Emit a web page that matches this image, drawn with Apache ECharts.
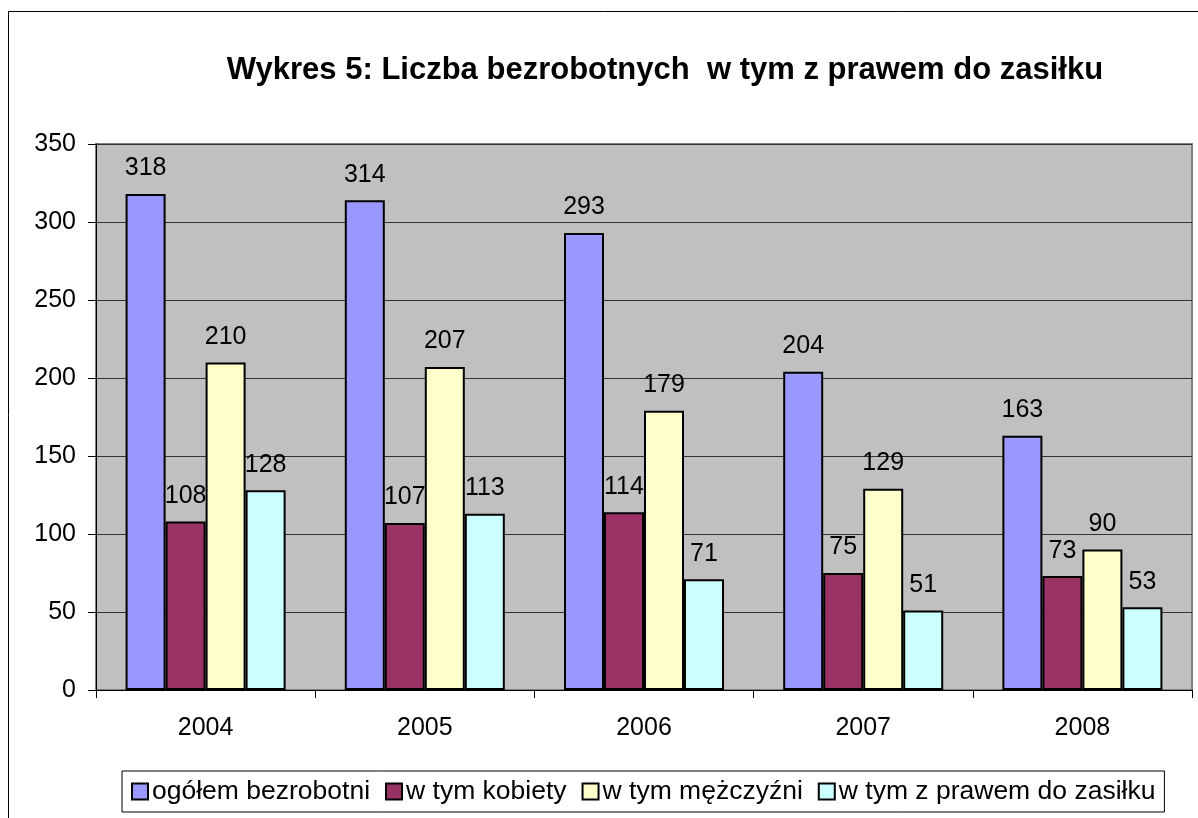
<!DOCTYPE html>
<html>
<head>
<meta charset="utf-8">
<script src="https://cdn.jsdelivr.net/npm/echarts@6/dist/echarts.min.js"></script>
<style>
  html, body { margin: 0; padding: 0; background: #fff; }
  #ChartDom { width: 1198px; height: 818px; }
</style>
</head>
<body>
<div id="ChartDom"></div>
<script>
const years = ["2004", "2005", "2006", "2007", "2008"]
const ogolem = [318, 314, 293, 204, 163]
const kobiety = [108, 107, 114, 75, 73]
const mezczyzni = [210, 207, 179, 129, 90]
const zasilek = [128, 113, 71, 51, 53]
const seriesNames = ["ogółem bezrobotni", "w tym kobiety", "w tym mężczyźni", "w tym z prawem do zasiłku"]
const seriesColors = ["#9999FF", "#993366", "#FFFFCC", "#CCFFFF"]

const font = "Liberation Sans, Arial, sans-serif"
const chart = echarts.init(document.getElementById("ChartDom"))

function barSeries(name, data, color) {
  return {
    name: name,
    type: "bar",
    data: data,
    barGap: "0%",
    barCategoryGap: "27%",
    itemStyle: { color: color, borderColor: "#000", borderWidth: 2 },
    label: {
      show: true, position: "top", distance: 13,
      color: "#000", fontSize: 25, fontFamily: font,
    },
  }
}

chart.setOption({
  animation: false,
  backgroundColor: "#fff",
  color: seriesColors,
  title: {
    text: "Wykres 5: Liczba bezrobotnych  w tym z prawem do zasiłku",
    left: 660, top: 50, textAlign: "center",
    textStyle: { color: "#000", fontSize: 31, fontWeight: "bold", fontFamily: font },
  },
  legend: {
    bottom: 6, left: 122,
    icon: "rect", itemWidth: 16, itemHeight: 16, itemGap: 15,
    padding: [7, 9, 7, 9],
    borderColor: "#000", borderWidth: 1,
    itemStyle: { borderColor: "#000", borderWidth: 2 },
    textStyle: { color: "#000", fontSize: 26.5, fontFamily: font, padding: [0, 0, 0, -1] },
  },
  grid: {
    left: 96, right: 6, top: 144, bottom: 128,
    show: true, backgroundColor: "#C0C0C0", borderColor: "#808080", borderWidth: 2,
  },
  xAxis: {
    type: "category",
    data: years,
    axisLine: { show: true, lineStyle: { color: "#000", width: 1 } },
    axisTick: { show: true, length: 8, lineStyle: { color: "#000" } },
    axisLabel: { color: "#000", fontSize: 25, fontFamily: font, margin: 26 },
  },
  yAxis: {
    type: "value",
    min: 0, max: 350, interval: 50,
    axisLine: { show: true, lineStyle: { color: "#000", width: 1 } },
    axisTick: { show: true, length: 8, lineStyle: { color: "#000" } },
    axisLabel: { color: "#000", fontSize: 25, fontFamily: font, margin: 20 },
    splitLine: { show: true, lineStyle: { color: "#333", width: 1 } },
  },
  graphic: [{
    type: "rect", silent: true, z: -1,
    shape: { x: 8.5, y: 11.5, width: 1200, height: 820 },
    style: { fill: "none", stroke: "#000", lineWidth: 1 },
  }],
  series: [
    barSeries(seriesNames[0], ogolem, seriesColors[0]),
    barSeries(seriesNames[1], kobiety, seriesColors[1]),
    barSeries(seriesNames[2], mezczyzni, seriesColors[2]),
    barSeries(seriesNames[3], zasilek, seriesColors[3]),
  ],
})
window.addEventListener("resize", () => chart.resize(), { passive: true })
</script>
</body>
</html>
